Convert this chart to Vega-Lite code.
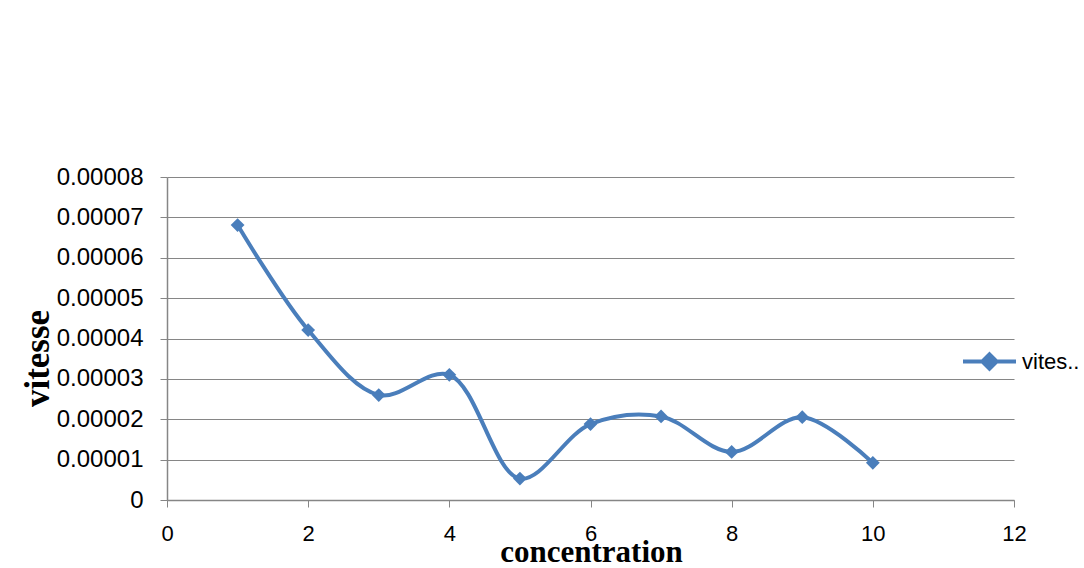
{
  "$schema": "https://vega.github.io/schema/vega-lite/v6.json",
  "width": 847,
  "height": 323,
  "autosize": {"type": "none"},
  "padding": {"left": 167, "top": 177, "right": 70, "bottom": 68},
  "background": "white",
  "data": {
    "values": [
      {"concentration": 1, "vitesse": 0.0000681, "serie": "vitesse"},
      {"concentration": 2, "vitesse": 0.0000421, "serie": "vitesse"},
      {"concentration": 3, "vitesse": 0.0000260, "serie": "vitesse"},
      {"concentration": 4, "vitesse": 0.0000310, "serie": "vitesse"},
      {"concentration": 5, "vitesse": 0.0000053, "serie": "vitesse"},
      {"concentration": 6, "vitesse": 0.0000188, "serie": "vitesse"},
      {"concentration": 7, "vitesse": 0.0000207, "serie": "vitesse"},
      {"concentration": 8, "vitesse": 0.0000119, "serie": "vitesse"},
      {"concentration": 9, "vitesse": 0.0000205, "serie": "vitesse"},
      {"concentration": 10, "vitesse": 0.0000092, "serie": "vitesse"}
    ]
  },
  "encoding": {
    "x": {
      "field": "concentration",
      "type": "quantitative",
      "scale": {"domain": [0, 12], "nice": false, "zero": false},
      "axis": {
        "values": [0, 2, 4, 6, 8, 10, 12],
        "grid": false,
        "title": "concentration",
        "titleFont": "Liberation Serif",
        "titleFontWeight": "bold",
        "titleFontSize": 31,
        "titleColor": "black",
        "titleBaseline": "middle",
        "titleX": 424,
        "titleY": 52,
        "labelFont": "Liberation Sans",
        "labelFontSize": 22,
        "labelColor": "black",
        "labelPadding": 16,
        "labelFlush": false,
        "tickSize": 7,
        "tickColor": "#868686",
        "domainColor": "#868686",
        "domainWidth": 1.5
      }
    },
    "y": {
      "field": "vitesse",
      "type": "quantitative",
      "scale": {"domain": [0, 0.00008], "nice": false},
      "axis": {
        "values": [0, 0.00001, 0.00002, 0.00003, 0.00004, 0.00005, 0.00006, 0.00007, 0.00008],
        "labelExpr": "datum.value == 0 ? '0' : format(datum.value, '.5f')",
        "grid": true,
        "gridColor": "#868686",
        "gridWidth": 1.2,
        "title": "vitesse",
        "titleFont": "Liberation Serif",
        "titleFontWeight": "bold",
        "titleFontSize": 35,
        "titleColor": "black",
        "titleAngle": -90,
        "titleAlign": "center",
        "titleBaseline": "middle",
        "titleX": -130,
        "titleY": 181,
        "labelFont": "Liberation Sans",
        "labelFontSize": 24,
        "labelColor": "black",
        "labelPadding": 17,
        "labelFlush": false,
        "tickSize": 7,
        "tickColor": "#868686",
        "domainColor": "#868686",
        "domainWidth": 1.5
      }
    }
  },
  "layer": [
    {
      "mark": {"type": "line", "interpolate": "catmull-rom", "strokeWidth": 4, "strokeCap": "round"},
      "encoding": {
        "color": {
          "field": "serie",
          "type": "nominal",
          "scale": {"range": ["#4A7EBB"]},
          "legend": {
            "orient": "none",
            "legendX": 794,
            "legendY": 156,
            "title": null,
            "symbolType": "M-1,0L1,0M0,-0.27L0.27,0L0,0.27L-0.27,0Z",
            "symbolSize": 2809,
            "symbolStrokeWidth": 4,
            "symbolFillColor": "#4A7EBB",
            "symbolStrokeColor": "#4A7EBB",
            "labelExpr": "'vites..'",
            "labelFont": "Liberation Sans",
            "labelFontSize": 22,
            "labelColor": "black",
            "labelOffset": 4
          }
        }
      }
    },
    {
      "mark": {"type": "point", "shape": "diamond", "filled": true, "size": 190, "color": "#4A7EBB", "opacity": 1}
    }
  ],
  "config": {
    "view": {"stroke": null}
  }
}
